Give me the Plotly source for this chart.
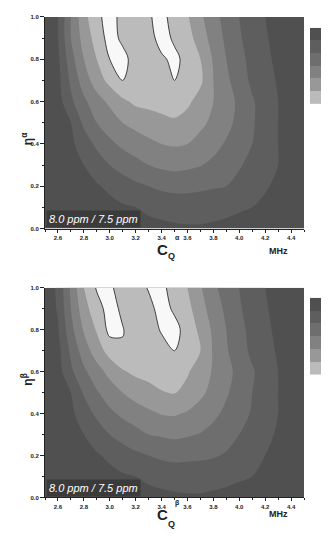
import plotly.graph_objects as go

# ---------------- data ----------------
cq_mhz = [2.5, 2.6, 2.7, 2.8, 2.9, 3.0, 3.1, 3.2, 3.3, 3.4, 3.5,
          3.6, 3.7, 3.8, 3.9, 4.0, 4.1, 4.2, 4.3, 4.4, 4.5]
eta = [0.0, 0.1, 0.2, 0.3, 0.4, 0.5, 0.6, 0.7, 0.8, 0.9, 1.0]

# rows: eta = 0.0 ... 1.0 ; columns: CQ = 2.5 ... 4.5
z_alpha = [
    [0.1, 0.1, 0.1, 0.2, 0.3, 0.4, 0.5, 0.6, 0.7, 0.8, 0.85, 0.9, 0.9, 0.85, 0.8, 0.7, 0.6, 0.5, 0.4, 0.3, 0.2],
    [0.1, 0.1, 0.2, 0.3, 0.5, 0.7, 0.9, 1.0, 1.2, 1.3, 1.4, 1.4, 1.4, 1.3, 1.2, 1.1, 1.0, 0.8, 0.6, 0.4, 0.2],
    [0.1, 0.2, 0.4, 0.6, 0.9, 1.2, 1.5, 1.8, 2.0, 2.2, 2.3, 2.3, 2.2, 2.1, 2.0, 1.7, 1.4, 1.1, 0.8, 0.5, 0.2],
    [0.2, 0.3, 0.6, 1.0, 1.5, 2.0, 2.4, 2.7, 3.0, 3.2, 3.3, 3.2, 3.05, 2.8, 2.5, 2.1, 1.7, 1.3, 1.0, 0.6, 0.3],
    [0.2, 0.4, 0.8, 1.5, 2.2, 2.8, 3.2, 3.5, 3.8, 4.0, 4.1, 4.0, 3.7, 3.3, 2.9, 2.5, 2.0, 1.5, 1.0, 0.6, 0.3],
    [0.2, 0.5, 1.0, 2.2, 3.0, 3.5, 4.0, 4.3, 4.5, 4.7, 4.85, 4.6, 4.2, 3.8, 3.3, 2.7, 2.1, 1.6, 1.0, 0.6, 0.3],
    [0.3, 0.6, 1.8, 2.8, 3.6, 4.2, 4.8, 5.2, 5.3, 5.4, 5.5, 5.2, 4.6, 4.0, 3.4, 2.8, 2.1, 1.6, 1.0, 0.6, 0.3],
    [0.3, 0.7, 2.2, 3.5, 4.5, 5.3, 6.0, 5.6, 5.4, 5.6, 6.0, 5.6, 5.2, 4.0, 3.2, 2.5, 1.8, 1.4, 0.9, 0.5, 0.3],
    [0.3, 0.8, 2.6, 4.0, 5.0, 6.0, 6.3, 5.6, 5.5, 5.8, 6.3, 5.6, 5.0, 3.9, 3.0, 2.3, 1.7, 1.2, 0.8, 0.5, 0.2],
    [0.3, 1.0, 3.0, 4.4, 5.4, 6.4, 5.8, 5.4, 5.5, 6.5, 5.8, 5.4, 4.5, 3.6, 2.8, 2.1, 1.6, 1.1, 0.7, 0.4, 0.2],
    [0.3, 1.0, 3.0, 4.7, 5.7, 6.5, 5.6, 5.4, 5.9, 6.3, 5.6, 5.1, 4.2, 3.3, 2.7, 2.0, 1.5, 1.0, 0.7, 0.4, 0.2],
]

z_beta = [
    [0.1, 0.1, 0.1, 0.2, 0.3, 0.4, 0.5, 0.6, 0.7, 0.8, 0.85, 0.9, 0.9, 0.85, 0.8, 0.7, 0.6, 0.5, 0.4, 0.3, 0.2],
    [0.1, 0.1, 0.2, 0.3, 0.5, 0.7, 0.9, 1.0, 1.2, 1.3, 1.4, 1.4, 1.4, 1.3, 1.2, 1.1, 1.0, 0.8, 0.6, 0.4, 0.2],
    [0.1, 0.2, 0.4, 0.6, 0.9, 1.2, 1.5, 1.8, 2.0, 2.2, 2.3, 2.25, 2.2, 2.1, 1.9, 1.6, 1.3, 1.0, 0.7, 0.5, 0.2],
    [0.2, 0.3, 0.6, 1.0, 1.5, 2.0, 2.4, 2.7, 3.0, 3.1, 3.2, 3.1, 2.95, 2.7, 2.4, 2.0, 1.6, 1.2, 0.9, 0.6, 0.3],
    [0.2, 0.4, 0.8, 1.5, 2.2, 2.8, 3.2, 3.5, 3.8, 4.05, 4.1, 3.9, 3.6, 3.2, 2.8, 2.4, 1.9, 1.4, 1.0, 0.6, 0.3],
    [0.2, 0.5, 1.0, 2.1, 2.9, 3.5, 4.0, 4.4, 4.7, 4.95, 5.05, 4.7, 4.2, 3.7, 3.1, 2.6, 2.0, 1.5, 1.0, 0.6, 0.3],
    [0.3, 0.6, 1.8, 2.8, 3.6, 4.3, 4.9, 5.2, 5.3, 5.4, 5.45, 5.1, 4.5, 3.9, 3.3, 2.7, 2.1, 1.6, 1.0, 0.6, 0.3],
    [0.3, 0.7, 2.2, 3.5, 4.5, 5.4, 5.9, 5.6, 5.4, 5.6, 6.0, 5.5, 5.0, 3.9, 3.1, 2.4, 1.8, 1.3, 0.9, 0.5, 0.3],
    [0.3, 0.9, 2.7, 4.1, 5.1, 6.3, 6.05, 5.5, 5.5, 6.1, 6.4, 5.5, 4.8, 3.8, 3.0, 2.3, 1.7, 1.2, 0.8, 0.5, 0.2],
    [0.3, 1.1, 3.0, 4.6, 5.6, 6.4, 5.8, 5.4, 5.6, 6.5, 5.8, 5.3, 4.4, 3.5, 2.8, 2.1, 1.6, 1.1, 0.7, 0.4, 0.2],
    [0.3, 1.2, 3.2, 5.0, 6.1, 6.2, 5.5, 5.4, 6.1, 6.3, 5.5, 5.0, 4.1, 3.2, 2.6, 2.0, 1.5, 1.0, 0.7, 0.4, 0.2],
]

contour_levels = [1, 2, 3, 4, 5, 6]
band_colors = ["#505050", "#5e5e5e", "#6e6e6e", "#818181", "#989898", "#bbbbbb", "#f8f8f8"]
colorbar_steps = [0, 1, 2, 3, 4, 5]
cbar_labels_alpha = ["9.0", "8.0", "7.5", "6.0", "4.5", "3.6", "2.5", "2.0", "1.5", "1.0"]
cbar_labels_beta = ["9.1", "8.0", "7.5", "6.5", "4.5", "3.6", "2.4", "2.0", "1.5", "1.0"]
panel_label = "8.0 ppm / 7.5 ppm"
x_title_main = "C"
x_title_sub = "Q"
site_symbols = ["α", "β"]
y_title_main = "η"
unit_label = "MHz"

# ---------------- layout helpers ----------------
# the page body has an 8 px margin, so the figure is placed 8 px in from the
# window corner; positions below are window pixels and are converted here.
WIN_W, WIN_H, OFF = 331, 539, 8
W, H = WIN_W - OFF, WIN_H - OFF


def fx(p):
    return (p - OFF) / W


def fy(p):
    return 1 - (p - OFF) / H


n = len(band_colors)
cscale = []
for i, c in enumerate(band_colors):
    cscale.append([i / n, c])
    cscale.append([(i + 1) / n, c])

FONT = "Liberation Sans, Arial, sans-serif"
INK = "#222"
fig = go.Figure()

panels = [
    dict(z=z_alpha, xa="x", ya="y", top=14, bot=228,
         lab_top=33, lab_bot=122, labels=cbar_labels_alpha, cbx="x3", cby="y3",
         sym=site_symbols[0], c_y=249, q_y=256, s_y=237, mhz_y=251, yt_y=129),
    dict(z=z_beta, xa="x2", ya="y2", top=288, bot=500,
         lab_top=308, lab_bot=392, labels=cbar_labels_beta, cbx="x4", cby="y4",
         sym=site_symbols[1], c_y=527, q_y=533, s_y=511, mhz_y=524, yt_y=389),
]


def ann(x, y, text, size, **kw):
    d = dict(x=fx(x), y=fy(y), xref="paper", yref="paper", text=text,
             showarrow=False, font=dict(size=size, family=FONT, color=kw.pop("color", INK)))
    d.update(kw)
    return d


annotations = []
for p in panels:
    fig.add_trace(go.Contour(
        x=cq_mhz, y=eta, z=p["z"], xaxis=p["xa"], yaxis=p["ya"],
        colorscale=cscale, zmin=min(contour_levels) - 0.5, zmax=max(contour_levels) + 0.5,
        zauto=False,
        contours=dict(start=contour_levels[0], end=contour_levels[-1], size=1,
                      coloring="fill", showlines=False),
        line=dict(width=0, smoothing=1.0), showscale=False, hoverinfo="skip"))
    fig.add_trace(go.Contour(
        x=cq_mhz, y=eta, z=p["z"], xaxis=p["xa"], yaxis=p["ya"],
        contours=dict(start=contour_levels[-1], end=contour_levels[-1], size=1,
                      coloring="none", showlines=True),
        line=dict(width=0.8, color="#1a1a1a", smoothing=1.0),
        showscale=False, hoverinfo="skip"))
    # colour bar drawn as a small heatmap, dark on top
    fig.add_trace(go.Heatmap(
        z=[[v] for v in reversed(colorbar_steps)], xaxis=p["cbx"], yaxis=p["cby"],
        colorscale=cscale, zmin=0, zmax=6, showscale=False, hoverinfo="skip"))

    k = len(p["labels"])
    for i, t in enumerate(p["labels"]):
        yy = p["lab_top"] + i * (p["lab_bot"] - p["lab_top"]) / (k - 1)
        annotations.append(ann(323, yy, t, 5, xanchor="left", yanchor="middle",
                               borderpad=0, color="#333"))
    annotations.append(ann(46, p["bot"] - 10, "<i>" + panel_label + "</i>", 11,
                           xanchor="left", yanchor="middle", bgcolor="#3b3b3b",
                           borderpad=2, color="white"))
    annotations.append(ann(162, p["c_y"], "<b>" + x_title_main + "</b>", 15, borderpad=0))
    annotations.append(ann(171.5, p["q_y"], "<b>" + x_title_sub + "</b>", 9, borderpad=0))
    annotations.append(ann(177, p["s_y"], "<b>" + p["sym"] + "</b>", 7, borderpad=0))
    annotations.append(ann(290, p["mhz_y"], "<b>" + unit_label + "</b>", 9))
    annotations.append(ann(17, p["yt_y"], "<b>" + y_title_main + "<sup>" + p["sym"] + "</sup></b>",
                           12, textangle=-90))

xaxis_common = dict(range=[2.5, 4.5], tick0=2.6, dtick=0.2, tickformat=".1f",
                    ticks="outside", ticklen=3, tickwidth=1, tickcolor=INK,
                    minor=dict(dtick=0.1, ticklen=2, ticks="outside", tickcolor=INK),
                    showline=True, linecolor=INK, linewidth=1, mirror=False,
                    showgrid=False, zeroline=False,
                    tickfont=dict(size=6, family=FONT, color=INK, weight="bold"),
                    domain=[fx(45), fx(304)])
yaxis_common = dict(range=[0, 1], dtick=0.2, tickformat=".1f",
                    ticks="outside", ticklen=4, tickwidth=1, tickcolor=INK,
                    minor=dict(dtick=0.1, ticklen=2, ticks="outside", tickcolor=INK),
                    showline=True, linecolor=INK, linewidth=1, mirror=False,
                    showgrid=False, zeroline=False,
                    tickfont=dict(size=6, family=FONT, color=INK, weight="bold"))
hidden = dict(visible=False, showgrid=False, zeroline=False, fixedrange=True)

fig.update_layout(
    width=W, height=H, margin=dict(l=0, r=0, t=0, b=0),
    paper_bgcolor="white", plot_bgcolor="white", showlegend=False,
    xaxis=dict(xaxis_common, anchor="y"),
    yaxis=dict(yaxis_common, anchor="x", domain=[fy(228), fy(14)]),
    xaxis2=dict(xaxis_common, anchor="y2"),
    yaxis2=dict(yaxis_common, anchor="x2", domain=[fy(500), fy(288)]),
    xaxis3=dict(hidden, domain=[fx(310), fx(321)], anchor="y3"),
    yaxis3=dict(hidden, domain=[fy(102), fy(25)], anchor="x3"),
    xaxis4=dict(hidden, domain=[fx(310), fx(321)], anchor="y4"),
    yaxis4=dict(hidden, domain=[fy(376), fy(298)], anchor="x4"),
    annotations=annotations,
)

fig.write_html("out.html")
